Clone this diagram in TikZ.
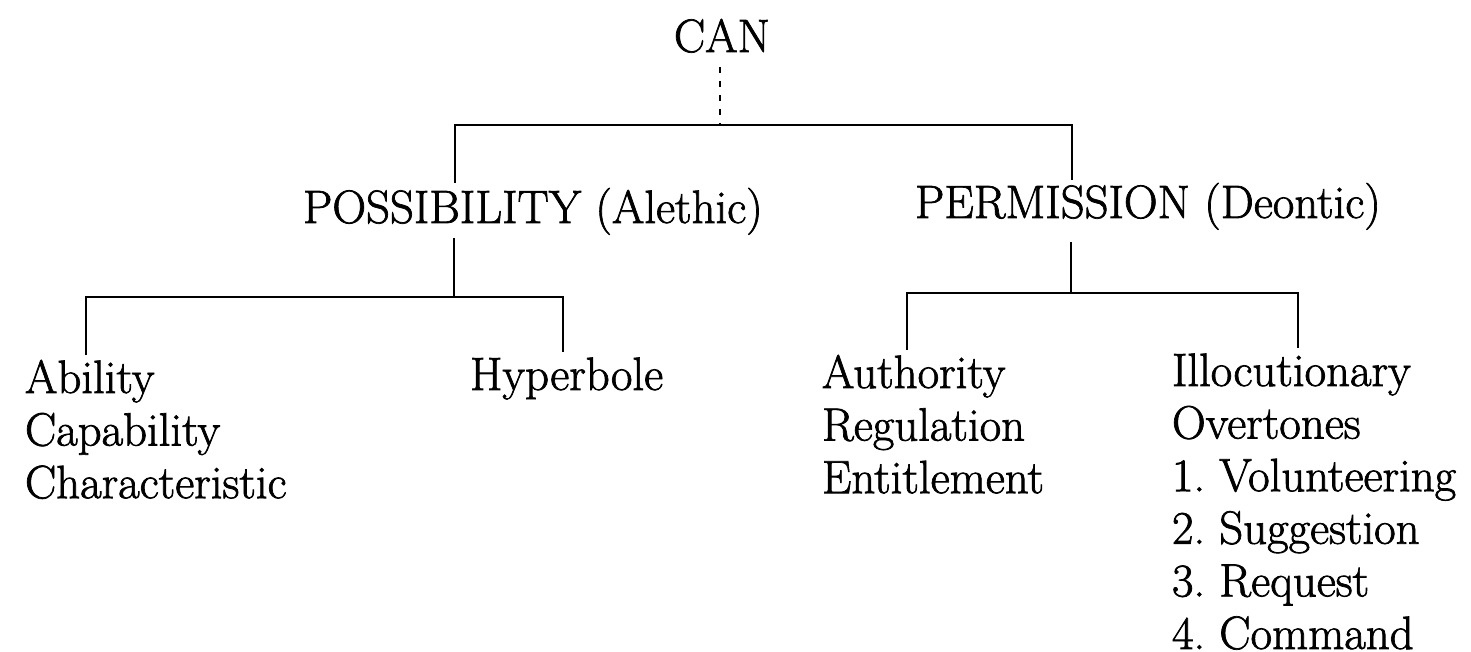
\documentclass[tikz,border=0pt]{standalone}
\usepackage{fontspec}
\setmainfont{Latin Modern Roman}[UprightFeatures={FakeBold=1.5}]
\frenchspacing
\begin{document}
\begin{tikzpicture}[x=0.5pt,y=-0.5pt,
  lbl/.style={inner sep=0pt,outer sep=0pt,font=\fontsize{23.4pt}{26.3pt}\selectfont},
  conn/.style={line width=1.1pt,line cap=butt},
  dotconn/.style={line width=1.1pt,dash pattern=on 3pt off 4pt}]
\useasboundingbox[fill=white] (0,0) rectangle (1471,652);
% text nodes
\node[lbl,anchor=base] (can) at (722,52) {CAN};
\node[lbl,anchor=base west] (poss) at (303,223) {POSSIBILITY (Alethic)};
\node[lbl,anchor=base west] (perm) at (915,218) {PERMISSION (Deontic)};
\node[lbl,anchor=base west] (abil) at (25,393) {\begin{tabular}[t]{@{}l@{}}Ability\\Capability\\Characteristic\end{tabular}};
\node[lbl,anchor=base west] (hyp) at (470,390) {Hyperbole};
\node[lbl,anchor=base west] (auth) at (822,388) {\begin{tabular}[t]{@{}l@{}}Authority\\Regulation\\Entitlement\end{tabular}};
\node[lbl,anchor=base west] (illo) at (1172,386) {\begin{tabular}[t]{@{}l@{}}Illocutionary\\Overtones\\1. Volunteering\\2. Suggestion\\3. Request\\4. Command\end{tabular}};
% junction coordinates
\coordinate (canb) at (720,67);
\coordinate (j0) at (720,125);
\coordinate (j0l) at (455,125);
\coordinate (j0r) at (1072,125);
\coordinate (posst) at (455,183);
\coordinate (permt) at (1072,180);
\coordinate (possb) at (454,238);
\coordinate (j1) at (454,297);
\coordinate (j1l) at (86,297);
\coordinate (j1r) at (563,297);
\coordinate (abilt) at (86,355);
\coordinate (hypt) at (563,352);
\coordinate (permb) at (1071,242);
\coordinate (j2) at (1071,293);
\coordinate (j2l) at (907,293);
\coordinate (j2r) at (1298,293);
\coordinate (autht) at (907,350);
\coordinate (illot) at (1298,348);
% connectors
\draw[dotconn] (canb) -- (j0);
\draw[conn] (posst) -- (j0l) -- (j0r) -- (permt);
\draw[conn] (possb) -- (j1);
\draw[conn] (abilt) -- (j1l) -- (j1r) -- (hypt);
\draw[conn] (permb) -- (j2);
\draw[conn] (autht) -- (j2l) -- (j2r) -- (illot);
\end{tikzpicture}
\end{document}
